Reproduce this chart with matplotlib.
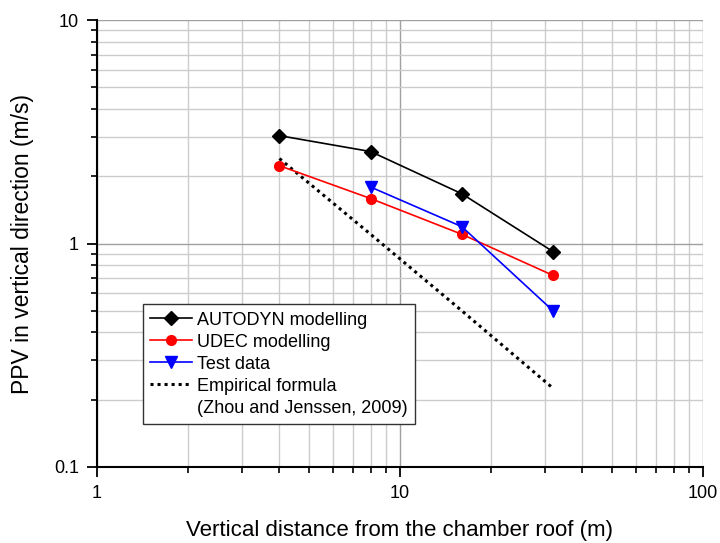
import matplotlib
matplotlib.use("Agg")
import matplotlib.pyplot as plt
from matplotlib.ticker import LogLocator, FixedFormatter, NullFormatter, FixedLocator

plt.rcParams['font.family'] = ['Liberation Sans', 'DejaVu Sans']

# distances from the chamber roof (m)
dist = [4, 8, 16, 32]
autodyn = [3.04, 2.58, 1.67, 0.92]
udec = [2.23, 1.59, 1.10, 0.72]
test_dist = [8, 16, 32]
test_ppv = [1.79, 1.19, 0.50]
empirical = [2.40, 1.10, 0.50, 0.225]

fig = plt.figure(figsize=(7.2, 5.43), dpi=100)
ax = fig.add_axes([0.1347, 0.14, 0.8417, 0.823])

ax.plot(dist, autodyn, c='k', marker='D', markersize=7.5, linewidth=1.2, label='AUTODYN modelling', zorder=5)
ax.plot(dist, udec, c='r', marker='o', markersize=7, linewidth=1.2, label='UDEC modelling', zorder=5)
ax.plot(test_dist, test_ppv, c='b', marker='v', markersize=8, linewidth=1.2, label='Test data', zorder=5)
ax.plot(dist, empirical, c='k', linestyle=(0, (1, 1.3)), linewidth=2.2,
        label='Empirical formula', zorder=4)
# second line of the formula's legend entry, no handle
ax.plot([], [], color='none', label='(Zhou and Jenssen, 2009)')

ax.set_xscale('log')
ax.set_yscale('log')
ax.set_xlim(1, 100)
ax.set_ylim(0.1, 10)

ax.xaxis.set_major_locator(FixedLocator([1, 10, 100]))
ax.xaxis.set_major_formatter(FixedFormatter(['1', '10', '100']))
ax.yaxis.set_major_locator(FixedLocator([0.1, 1, 10]))
ax.yaxis.set_major_formatter(FixedFormatter(['0.1', '1', '10']))
ax.xaxis.set_minor_locator(LogLocator(base=10, subs=range(2, 10), numticks=20))
ax.yaxis.set_minor_locator(LogLocator(base=10, subs=range(2, 10), numticks=20))
ax.xaxis.set_minor_formatter(NullFormatter())
ax.yaxis.set_minor_formatter(NullFormatter())

ax.grid(which='major', color='#a0a0a0', linewidth=1.0)
ax.grid(which='minor', color='#cccccc', linewidth=1.0)
ax.set_axisbelow(True)

for side in ['top', 'right']:
    ax.spines[side].set_visible(False)
for side in ['left', 'bottom']:
    ax.spines[side].set_linewidth(1.5)

ax.tick_params(which='major', direction='out', length=7, width=1.3, labelsize=13, pad=6)
ax.tick_params(which='minor', direction='out', length=4.5, width=1.2)

ax.set_xlabel('Vertical distance from the chamber roof (m)', fontsize=16, labelpad=13)
ax.set_ylabel('PPV in vertical direction (m/s)', fontsize=16.5, labelpad=14)

leg = ax.legend(loc='lower left', bbox_to_anchor=(0.076, 0.096), borderaxespad=0,
                fontsize=13, handlelength=2.3, handletextpad=0.3, labelspacing=0.28,
                borderpad=0.4, fancybox=False, framealpha=1, edgecolor='#333333')
leg.get_frame().set_linewidth(1.0)

fig.savefig('out.png', dpi=100)
